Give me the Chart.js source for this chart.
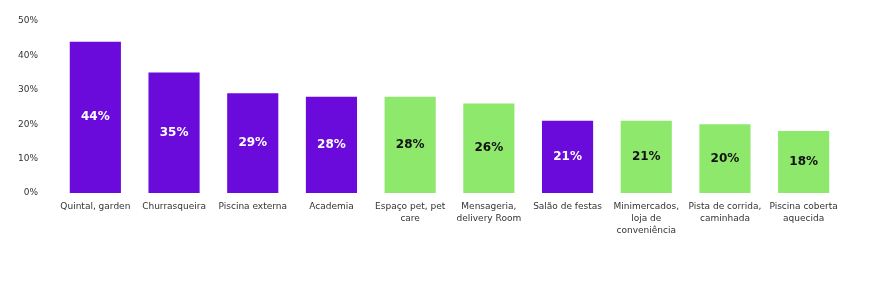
<!DOCTYPE html>
<html lang="pt">
<head>
    <meta charset="UTF-8">
    <title>Amenidades</title>
    <style>
        html, body { margin: 0; padding: 0; background: #fff; }
        #wrap { width: 886px; height: 289px; }
    </style>
</head>
<body>
    <div id="wrap"><canvas id="chart"></canvas></div>
    <script src="https://cdn.jsdelivr.net/npm/chart.js"></script>
    <script>
        // categorias (quebras de linha como no original)
        const categories = [
            'Quintal, garden',
            'Churrasqueira',
            'Piscina externa',
            'Academia',
            ['Espaço pet, pet', 'care'],
            ['Mensageria,', 'delivery Room'],
            'Salão de festas',
            ['Minimercados,', 'loja de', 'conveniência'],
            ['Pista de corrida,', 'caminhada'],
            ['Piscina coberta', 'aquecida']
        ];
        const values = [44, 35, 29, 28, 28, 26, 21, 21, 20, 18];
        const highlight = [true, true, true, true, false, false, true, false, false, false];
        const yTicks = [0, 10, 20, 30, 40, 50];

        const PURPLE = '#6b0bdb';
        const GREEN = '#8ee86c';

        const barColors = highlight.map(h => h ? PURPLE : GREEN);
        const labelColors = highlight.map(h => h ? '#ffffff' : '#111111');

        // rótulos no meio das barras
        const centerLabels = {
            id: 'centerLabels',
            afterDatasetsDraw(chart) {
                const ctx = chart.ctx;
                const meta = chart.getDatasetMeta(0);
                ctx.save();
                ctx.font = 'bold 12px "DejaVu Sans", Verdana, sans-serif';
                ctx.textAlign = 'center';
                ctx.textBaseline = 'middle';
                meta.data.forEach((bar, i) => {
                    const mid = (bar.y + bar.base) / 2;
                    ctx.fillStyle = labelColors[i];
                    ctx.fillText(values[i] + '%', bar.x, mid);
                });
                ctx.restore();
            }
        };

        new Chart(document.getElementById('chart'), {
            type: 'bar',
            data: {
                labels: categories,
                datasets: [{
                    data: values,
                    backgroundColor: barColors,
                    borderColor: barColors,
                    borderWidth: 0,
                    barPercentage: 0.65,
                    categoryPercentage: 1
                }]
            },
            options: {
                responsive: true,
                maintainAspectRatio: false,
                animation: false,
                layout: { padding: { top: 21, right: 43, bottom: 0, left: 0 } },
                plugins: {
                    legend: { display: false },
                    tooltip: { enabled: false }
                },
                scales: {
                    y: {
                        min: 0,
                        max: 50,
                        afterFit(scale) { scale.width = 56; },
                        afterBuildTicks(scale) { scale.ticks = yTicks.map(v => ({ value: v })); },
                        grid: { display: false },
                        border: { display: false },
                        ticks: {
                            padding: 10,
                            color: '#333',
                            font: { family: '"DejaVu Sans", Verdana, sans-serif', size: 9 },
                            callback: v => v + '%'
                        }
                    },
                    x: {
                        afterFit(scale) { scale.height = 96; },
                        grid: { display: false },
                        border: { display: false },
                        ticks: {
                            padding: 0,
                            maxRotation: 0,
                            autoSkip: false,
                            color: '#333',
                            font: { family: '"DejaVu Sans", Verdana, sans-serif', size: 9, lineHeight: 1.33 }
                        }
                    }
                }
            },
            plugins: [centerLabels]
        });
    </script>
</body>
</html>
